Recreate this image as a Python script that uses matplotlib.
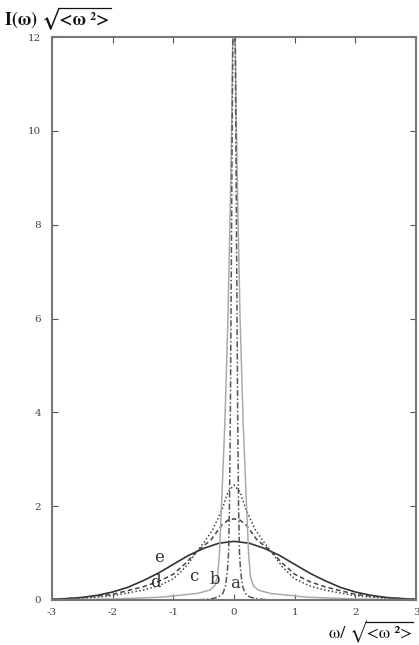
import matplotlib
matplotlib.use("Agg")
import matplotlib.pyplot as plt
from matplotlib.lines import Line2D

plt.rcParams['axes.unicode_minus'] = False
plt.rcParams['mathtext.fontset'] = 'stix'
plt.rcParams['font.family'] = 'serif'
plt.rcParams['font.serif'] = ['DejaVu Serif', 'Liberation Serif']

# curve a (dash-dot, narrowest)
xa = [-3.0, -1.0, -0.7, -0.5, -0.35, -0.25, -0.18, -0.14, -0.11, -0.09, -0.075, -0.06, -0.045, -0.03, -0.015, 0.0,
      0.015, 0.03, 0.045, 0.06, 0.075, 0.09, 0.11, 0.14, 0.18, 0.25, 0.35, 0.5, 0.7, 1.0, 3.0]
ya = [0.0, 0.0, 0.003, 0.01, 0.03, 0.07, 0.15, 0.3, 0.6, 1.0, 2.0, 4.0, 7.0, 10.0, 13.0, 25.0,
      13.0, 10.0, 7.0, 4.0, 2.0, 1.0, 0.6, 0.3, 0.15, 0.07, 0.03, 0.01, 0.003, 0.0, 0.0]

# curve b (light grey solid)
xb = [-3.0, -2.5, -2.0, -1.6, -1.2, -0.9, -0.6, -0.4, -0.32, -0.27, -0.24, -0.2, -0.15, -0.1, -0.06, -0.04, -0.02, 0.0,
      0.02, 0.04, 0.06, 0.1, 0.15, 0.2, 0.24, 0.27, 0.32, 0.4, 0.6, 0.9, 1.2, 1.6, 2.0, 2.5, 3.0]
yb = [0.005, 0.01, 0.02, 0.04, 0.06, 0.1, 0.14, 0.21, 0.3, 0.5, 1.0, 2.2, 3.8, 6.0, 8.5, 10.0, 12.0, 20.0,
      12.0, 10.0, 8.5, 6.0, 3.8, 2.2, 1.0, 0.5, 0.3, 0.21, 0.14, 0.1, 0.06, 0.04, 0.02, 0.01, 0.005]

# curve c (dotted)
xc = [-3.0, -2.5, -2.0, -1.5, -1.25, -1.0, -0.8, -0.6, -0.5, -0.35, -0.2, -0.1, 0.0,
      0.1, 0.2, 0.35, 0.5, 0.6, 0.8, 1.0, 1.25, 1.5, 2.0, 2.5, 3.0]
yc = [0.01, 0.035, 0.09, 0.21, 0.3, 0.45, 0.7, 1.05, 1.22, 1.5, 1.92, 2.3, 2.45,
      2.3, 1.92, 1.5, 1.22, 1.05, 0.7, 0.45, 0.3, 0.21, 0.09, 0.035, 0.01]

# curve d (dashed)
xd = [-3.0, -2.5, -2.0, -1.5, -1.25, -1.0, -0.8, -0.6, -0.38, -0.2, -0.1, 0.0,
      0.1, 0.2, 0.38, 0.6, 0.8, 1.0, 1.25, 1.5, 2.0, 2.5, 3.0]
yd = [0.015, 0.05, 0.12, 0.28, 0.39, 0.55, 0.78, 1.05, 1.28, 1.6, 1.7, 1.73,
      1.7, 1.6, 1.28, 1.05, 0.78, 0.55, 0.39, 0.28, 0.12, 0.05, 0.015]

# curve e (solid dark)
xe = [-3.0, -2.75, -2.5, -2.25, -2.0, -1.75, -1.5, -1.25, -1.0, -0.75, -0.5, -0.25, 0.0,
      0.25, 0.5, 0.75, 1.0, 1.25, 1.5, 1.75, 2.0, 2.25, 2.5, 2.75, 3.0]
ye = [0.014, 0.03, 0.055, 0.1, 0.17, 0.27, 0.41, 0.57, 0.76, 0.95, 1.10, 1.21, 1.25,
      1.21, 1.10, 0.95, 0.76, 0.57, 0.41, 0.27, 0.17, 0.1, 0.055, 0.03, 0.014]

labels = ['a', 'b', 'c', 'd', 'e']
label_x = [0.02, -0.31, -0.67, -1.30, -1.23]
label_y = [0.36, 0.43, 0.49, 0.38, 0.91]

xticks = [-3, -2, -1, 0, 1, 2, 3]
yticks = [0, 2, 4, 6, 8, 10, 12]

W, H = 419, 645
fig = plt.figure(figsize=(W / 100, H / 100), dpi=100)
ax = fig.add_axes([0.124, 0.0698, 0.869, 0.8728])

ax.plot(xe, ye, color='#333333', lw=1.2, ls='-')
ax.plot(xd, yd, color='#444444', lw=1.1, ls=(0, (3, 2)))
ax.plot(xc, yc, color='#444444', lw=1.1, ls=(0, (1, 1.5)))
ax.plot(xb, yb, color='#aaaaaa', lw=1.1, ls='-')
ax.plot(xa, ya, color='#555555', lw=1.1, ls=(0, (4, 1.5, 1, 1.5)))

for t, lx, ly in zip(labels, label_x, label_y):
    ax.text(lx, ly, t, fontsize=12, fontfamily='serif', color='#333333',
            ha='center', va='center')

ax.set_xlim(-3, 3)
ax.set_ylim(0, 12)
ax.set_xticks(xticks)
ax.set_yticks(yticks)
ax.set_xticklabels([str(v) for v in xticks])
ax.set_yticklabels([str(v) for v in yticks])
ax.tick_params(direction='in', length=4, width=0.8, color='#555555',
               top=True, right=True, labelsize=7.5, labelcolor='#444444')
ax.tick_params(axis='x', pad=6)
ax.tick_params(axis='y', pad=8)
for sp in ax.spines.values():
    sp.set_color('#777777')
    sp.set_linewidth(1.5)


def sqrt_label(x, y, prefix, radicand, weight='normal', size=13):
    full = fig.text(x, y, prefix + "\u221a" + radicand, fontsize=size, ha='left',
                    va='baseline', color='#111111', family='STIXGeneral', weight=weight)
    tmp = fig.text(x, y, prefix + "\u221a", fontsize=size, ha='left', va='baseline',
                   family='STIXGeneral', weight=weight)
    rad = fig.text(x, y, "\u221a", fontsize=size, ha='left', va='baseline',
                   family='STIXGeneral', weight=weight)
    r = fig.canvas.get_renderer()
    bf = full.get_window_extent(r)
    bp = tmp.get_window_extent(r)
    br = rad.get_window_extent(r)
    tmp.remove()
    rad.remove()
    ytop = (br.y1 - 0.5) / H
    fig.add_artist(Line2D([(bp.x1 - 0.5) / W, (bf.x1 + 1) / W], [ytop, ytop],
                          transform=fig.transFigure, color='#111111', lw=0.9))


sqrt_label(0.012, 0.962, "I(\u03c9) ", "<\u03c9 \u00b2>", weight='bold', size=13)
sqrt_label(0.785, 0.010, "\u03c9/ ", "<\u03c9 \u00b2>", weight='normal', size=13)

fig.savefig('out.png', dpi=100)
